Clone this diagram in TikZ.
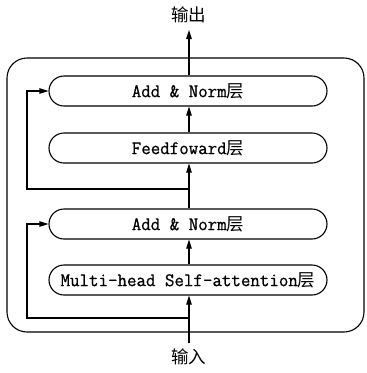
\documentclass[tikz,border=0pt]{standalone}
\usepackage{fontspec}
\newfontfamily\cjkfont{Noto Sans CJK SC}
\newfontfamily\layerfont{Latin Modern Mono}[FakeBold=0.7,FakeStretch=0.96]
\usetikzlibrary{arrows.meta}
\begin{document}
\begin{tikzpicture}[x=1pt,y=-1pt,
  line width=1.1pt,
  layer/.style={draw, rounded corners=15pt, minimum width=278pt, minimum height=30pt,
    inner sep=0pt, font=\layerfont\fontsize{19.2}{19.2}\selectfont},
  lbl/.style={font=\cjkfont\fontsize{17.5}{17.5}\selectfont, inner sep=0pt},
  flow/.style={-{Triangle[length=9pt,width=5.5pt]}}]
\path[use as bounding box] (0,0) rectangle (367,373);

% encoder block frame
\draw[rounded corners=20pt] (7,58) rectangle (364,332);

% layers
\node[layer] (an2) at (188,91)  {Add \& Norm{\cjkfont\fontsize{17.5}{17.5}\selectfont 层}};
\node[layer] (ff)  at (188,148) {Feedfoward{\cjkfont\fontsize{17.5}{17.5}\selectfont 层}};
\node[layer] (an1) at (188,224) {Add \& Norm{\cjkfont\fontsize{17.5}{17.5}\selectfont 层}};
\node[layer] (mh)  at (188,280) {Multi-head Self-attention{\cjkfont\fontsize{17.5}{17.5}\selectfont 层}};

% input / output labels
\node[lbl] (out) at (189,15) {输出};
\node[lbl] (in)  at (189,357) {输入};

\coordinate (src) at (189,343);
\coordinate (tip) at (189,30);
\coordinate (s1) at (189,318);
\coordinate (s2) at (189,189);
\coordinate (k1) at (27,318);
\coordinate (k2) at (27,189);

% main flow
\draw[flow] (src) -- (src |- mh.south);
\draw[flow] (mh.north -| src) -- (an1.south -| src);
\draw[flow] (an1.north -| src) -- (ff.south -| src);
\draw[flow] (ff.north -| src) -- (an2.south -| src);
\draw[flow] (an2.north -| src) -- (tip);

% residual connections
\draw[flow] (s1) -- (k1) |- (an1.west);
\draw[flow] (s2) -- (k2) |- (an2.west);
\end{tikzpicture}
\end{document}
